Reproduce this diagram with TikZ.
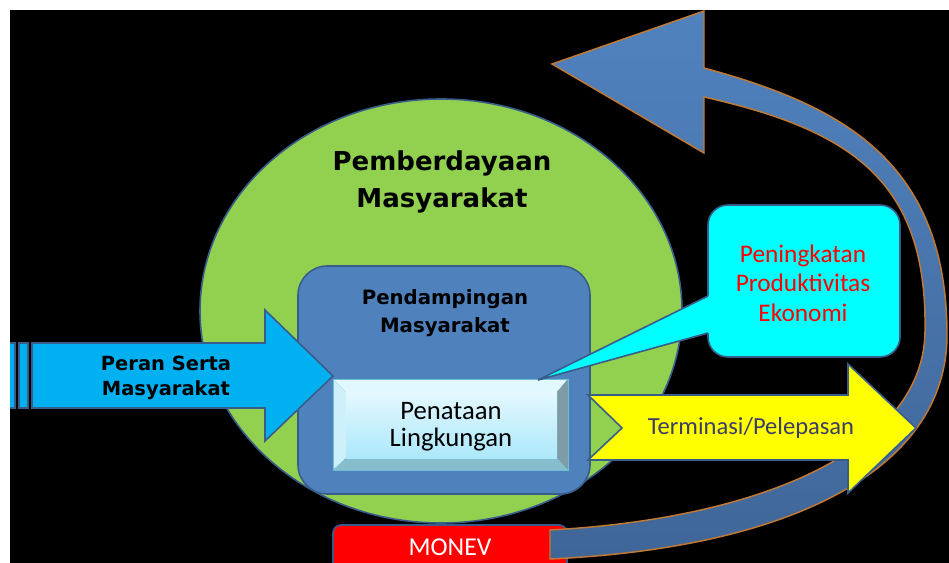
\documentclass[tikz,border=0pt]{standalone}
\usepackage{fontspec}
\setmainfont{Carlito}
\newfontfamily\judulfont{DejaVu Sans}
\begin{document}
\begin{tikzpicture}[x=0.75pt,y=0.75pt,yscale=-1,xscale=1,
  garis/.style={draw={rgb, 255:red, 56; green, 93; blue, 138 }, line width=1.2pt},
  tebal/.style={font=\judulfont\bfseries, align=center, inner sep=0.75pt},
  biasa/.style={align=center, inner sep=0.75pt}]
\useasboundingbox (0,0) rectangle (949,563);
\fill [black] (10,10) rectangle (949,563);
\begin{scope}
\clip (10,10) rectangle (949,563);
% lingkaran pemberdayaan
\draw [garis, fill={rgb, 255:red, 146; green, 208; blue, 80 }] (441,311) ellipse [x radius=241, y radius=212];
% kotak pendampingan
\draw [garis, fill={rgb, 255:red, 79; green, 129; blue, 189 }, rounded corners=22pt] (298,266) rectangle (590,494);
% panah peran serta
\draw [garis, fill={rgb, 255:red, 0; green, 176; blue, 240 }] (6,343) rectangle (15,408);
\draw [garis, fill={rgb, 255:red, 0; green, 176; blue, 240 }] (19,343) rectangle (28,408);
\draw [garis, fill={rgb, 255:red, 0; green, 176; blue, 240 }] (32,343) -- (265,343) -- (265,310) -- (333,376) -- (265,441) -- (265,408) -- (32,408) -- cycle;
% kotak penataan (bevel)
\fill [fill={rgb, 255:red, 226; green, 248; blue, 255 }] (333,379) -- (568,379) -- (557,392) -- (346,392) -- cycle;
\fill [fill={rgb, 255:red, 205; green, 240; blue, 250 }] (333,379) -- (346,392) -- (346,458) -- (333,470) -- cycle;
\fill [fill={rgb, 255:red, 126; green, 156; blue, 166 }] (568,379) -- (568,470) -- (557,458) -- (557,392) -- cycle;
\fill [fill={rgb, 255:red, 134; green, 190; blue, 205 }] (333,470) -- (568,470) -- (557,458) -- (346,458) -- cycle;
\shade [top color={rgb, 255:red, 228; green, 248; blue, 254 }, bottom color={rgb, 255:red, 172; green, 232; blue, 250 }] (346,392) rectangle (557,458);
\draw [draw={rgb, 255:red, 110; green, 190; blue, 215 }, line width=0.6pt] (333,379) rectangle (568,470);
% balon peningkatan
\draw [garis, fill={rgb, 255:red, 0; green, 255; blue, 255 }, rounded corners=15pt] (708,205) rectangle (900,357);
\fill [fill={rgb, 255:red, 0; green, 255; blue, 255 }] (538,380) -- (711,294.5) -- (711,332.5) -- cycle;
\draw [garis] (708,296) -- (538,380) -- (708,333);
% monev
\draw [garis, fill={rgb, 255:red, 255; green, 0; blue, 0 }, rounded corners=6pt] (333,525) rectangle (567,585);
% panah melengkung
\draw [draw={rgb, 255:red, 192; green, 122; blue, 52 }, line width=1.1pt, top color={rgb, 255:red, 80; green, 130; blue, 190 }, bottom color={rgb, 255:red, 64; green, 102; blue, 152 }] (550,559) .. controls (790,548) and (947,470) .. (947,335) .. controls (947,160) and (840,105) .. (704,68) -- (704,11) -- (552,64) -- (704,153) -- (704,97) .. controls (850,130) and (927,180) .. (925,330) .. controls (925,445) and (770,518) .. (550,530) -- cycle;
% panah terminasi
\draw [garis, fill={rgb, 255:red, 255; green, 255; blue, 0 }] (588,395) -- (848,395) -- (848,364) -- (916,428) -- (848,493) -- (848,460) -- (588,460) -- (622,428) -- cycle;
\end{scope}
% teks
\draw (442,182) node [tebal, font=\judulfont\bfseries\fontsize{19.5}{27.5}\selectfont] (judul) {Pemberdayaan\\Masyarakat};
\draw (445,313) node [tebal, font=\judulfont\bfseries\fontsize{14.8}{21}\selectfont] (pendamping) {Pendampingan\\Masyarakat};
\draw (166,378) node [tebal, font=\judulfont\bfseries\fontsize{14.6}{19}\selectfont] (peran) {Peran Serta\\Masyarakat};
\draw (451,427) node [biasa, font=\fontsize{20}{20.5}\selectfont] (penataan) {Penataan\\Lingkungan};
\draw (803,283) node [biasa, text={rgb, 255:red, 255; green, 0; blue, 0 }, font=\fontsize{19}{22}\selectfont] (peningkatan) {Peningkatan\\Produktivitas\\Ekonomi};
\draw (751,428) node [biasa, text={rgb, 255:red, 60; green, 60; blue, 105 }, font=\fontsize{18.4}{20}\selectfont] (terminasi) {Terminasi/Pelepasan};
\draw (450,547) node [biasa, text=white, font=\fontsize{19.3}{20}\selectfont] (monev) {MONEV};
\end{tikzpicture}
\end{document}
